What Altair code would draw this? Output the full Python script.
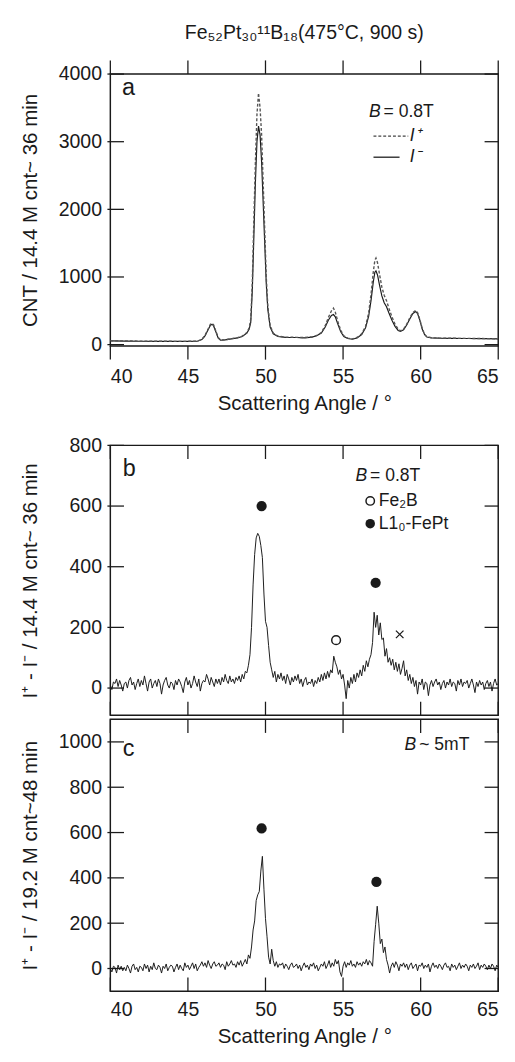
import altair as alt
import pandas as pd

FONT = "Liberation Sans"
INK = "#1a1a1a"

# ---------------- panel a : I+ and I- (CNT / 14.4 M cnt ~ 36 min) ----------------
a_angle = [40.0, 41.0, 42.0, 43.0, 44.0, 45.0, 45.6, 45.9, 46.1, 46.3,
           46.45, 46.55, 46.65, 46.8, 46.95, 47.1, 47.4, 47.8, 48.2, 48.5,
           48.8, 48.95, 49.05, 49.15, 49.25, 49.35, 49.45, 49.55, 49.65, 49.75,
           49.85, 49.95, 50.05, 50.15, 50.3, 50.5, 50.8, 51.3, 52.0, 52.5,
           53.0, 53.3, 53.6, 53.85, 54.05, 54.25, 54.38, 54.5, 54.65, 54.85,
           55.05, 55.3, 55.6, 55.9, 56.2, 56.45, 56.65, 56.8, 56.95, 57.05,
           57.12, 57.22, 57.35, 57.5, 57.65, 57.8, 57.95, 58.15, 58.35, 58.55,
           58.7, 58.9, 59.1, 59.3, 59.5, 59.68, 59.8, 59.95, 60.1, 60.25,
           60.4, 60.7, 61.2, 62.0, 63.0, 64.0, 65.0]
a_minus = [55, 52, 50, 48, 47, 47, 50, 75, 130, 220,
           285, 300, 280, 190, 100, 65, 70, 85, 100, 120,
           170, 230, 330, 800, 1600, 2400, 3000, 3230, 3100, 2700,
           2100, 1500, 900, 520, 260, 160, 120, 108, 105, 100,
           110, 130, 170, 260, 360, 430, 445, 410, 310, 190,
           120, 90, 80, 100, 150, 250, 420, 650, 930, 1070,
           1090, 1030, 880, 720, 620, 560, 470, 360, 270, 210,
           195, 220, 290, 380, 460, 490, 460, 360, 230, 150,
           112, 100, 95, 92, 90, 88, 85]
a_plus = [58, 55, 52, 50, 49, 49, 52, 78, 135, 230,
          300, 315, 295, 200, 105, 68, 72, 88, 104, 125,
          180, 250, 380, 920, 1850, 2700, 3400, 3720, 3500, 3100,
          2400, 1700, 1000, 570, 280, 170, 126, 112, 108, 104,
          115, 135, 180, 280, 400, 500, 540, 480, 350, 210,
          130, 95, 85, 105, 160, 270, 470, 740, 1080, 1250,
          1280, 1210, 1040, 850, 730, 650, 540, 410, 300, 230,
          205, 230, 300, 395, 475, 505, 475, 370, 240, 155,
          115, 102, 97, 94, 92, 90, 87]

# ---------------- panels b, c : I+ - I- on a 0.1 deg grid ----------------
diff_angle = [round(40 + i * 0.1, 1) for i in range(251)]
b_diff = [10, -5, 20, 15, 30, 5, 25, 10, -10, 15,
          20, 0, 25, 35, 10, 20, -5, 15, 30, 5,
          25, 10, 40, 15, -10, 20, 30, 0, 15, 25,
          5, 30, 15, -20, 10, 25, 35, 10, 0, 20,
          15, -5, 25, 10, 30, 20, 5, -15, 20, 35,
          10, 25, 0, 15, 40, 20, 5, 30, -10, 15,
          25, 20, 45, 30, 10, 35, 20, 5, 30, 15,
          30, 10, 35, 20, 45, 25, 15, 40, 20, 30,
          15, 35, 25, 40, 20, 45, 30, 55, 50, 75,
          110, 200, 340, 440, 495, 510, 500, 470, 430, 310,
          220, 200, 140, 85, 60, 35, 55, 20, 45, 30,
          50, 25, 40, 15, 45, 30, 10, 35, 20, 40,
          25, 45, 15, 30, 5, 25, 35, 10, 20, 15,
          30, 5, 25, 15, 35, 20, 45, 25, 50, 30,
          55, 35, 60, 50, 105, 85, 70, 45, 60, 30,
          45, 10, -35, 25, 0, 35, 15, 45, 20, 50,
          35, 60, 40, 75, 55, 90, 70, 95, 110, 150,
          250, 200, 240, 175, 215, 160, 165, 105, 130, 85,
          100, 75, 95, 60, 85, 55, 80, 45, 65, 90,
          40, 60, 25, 45, 15, 35, 5, 25, -20, 20,
          10, 30, -5, 20, 15, -25, 10, 25, 5, 20,
          30, 10, 20, -5, 15, 25, 0, 20, 10, 30,
          5, 20, 15, -10, 25, 10, 30, 5, 20, 15,
          25, 0, 15, 30, 10, -15, 20, 5, 25, 10,
          20, -5, 15, 25, 5, 20, -10, 15, 30, 10,
          15]
c_diff = [0, -15, 10, 5, -20, 15, -5, 10, -10, 5,
          -10, 15, 0, -20, 10, 20, -5, 5, -15, 10,
          5, -10, 20, 0, 15, -15, 10, -5, 25, 0,
          -5, 15, 5, -20, 10, 0, 20, -10, 5, 15,
          10, -15, 5, 20, -5, 15, 0, -10, 25, 5,
          15, -5, 10, 25, 0, 20, -10, 5, 15, 30,
          10, 25, 5, 35, 15, 0, 20, 30, 10, 15,
          25, 5, 20, 15, -5, 30, 10, 20, 35, 15,
          20, 5, 30, 15, 35, 10, 25, 40, 20, 60,
          45, 95, 170, 210, 300, 325, 340, 430, 495, 350,
          220, 140, 50, 20, 85, 35, 10, 30, 5, 20,
          15, 25, 0, 20, 10, -5, 15, 25, 5, 10,
          20, 0, 15, -10, 10, 25, 5, 15, -5, 20,
          10, 25, 0, 15, -10, 5, 20, 10, 30, 0,
          15, 35, 5, 25, 10, 40, 20, 35, -15, -35,
          10, 30, 5, 25, 15, 35, 10, 20, 5, 30,
          15, 25, 10, 30, 20, 40, 15, 35, 25, 10,
          120, 195, 275, 200, 110, 130, 70, 95, 40, 15,
          -20, 10, 25, 5, 30, 15, -10, 20, 10, 25,
          5, 20, -5, 15, 25, 0, 10, 20, -10, 15,
          10, 25, 0, 15, 5, 20, -15, 10, 25, 5,
          15, 0, 20, 10, -5, 15, 25, 5, 10, -10,
          20, 5, 15, -5, 10, 25, 0, 15, 5, 20,
          10, -10, 15, 5, 20, 0, 10, 25, -5, 15,
          5, 20, 10, -5, 15, 0, 20, 10, -10, 15,
          5]

# peak markers (angle, value)
b_fill_x = [49.75, 57.1]
b_fill_y = [600, 347]
b_open_x = [54.55]
b_open_y = [158]
b_cross_x = [58.65]
b_cross_y = [177]
c_fill_x = [49.75, 57.15]
c_fill_y = [618, 382]

# tick values
x_ticks = [40, 45, 50, 55, 60, 65]
a_yticks = [0, 1000, 2000, 3000, 4000]
b_yticks = [0, 200, 400, 600, 800]
c_yticks = [0, 200, 400, 600, 800, 1000]

W = 398
TL = 14

xs = alt.Scale(domain=[40, 65], nice=False, zero=False)
ys_a = alt.Scale(domain=[-20, 4000], nice=False, zero=False)
ys_b = alt.Scale(domain=[-90, 800], nice=False, zero=False)
ys_c = alt.Scale(domain=[-100, 1100], nice=False, zero=False)


def make_axes(ytitle, yvals, xlabels, xtitle, xlabpad):
    xkw = dict(values=x_ticks, ticks=False, tickSize=0, domain=False, grid=False,
               labels=xlabels, labelPadding=xlabpad, labelFontSize=20, labelFont=FONT,
               labelColor=INK, format="d", titleFont=FONT, titleFontSize=21,
               titleFontWeight="normal", titlePadding=7, titleColor=INK)
    if xtitle:
        xkw["title"] = xtitle
    else:
        xkw["title"] = None
    xa = alt.Axis(**xkw)
    ya = alt.Axis(values=yvals, ticks=False, tickSize=0, domain=False, grid=False,
                  labelPadding=9, labelFontSize=20, labelFont=FONT, labelColor=INK,
                  format="d", title=ytitle, titleFont=FONT, titleFontSize=21,
                  titleFontWeight="normal", titleColor=INK, titleX=-76,
                  titleBaseline="alphabetic")
    return xa, ya


def X(xa):
    return alt.X("x:Q", scale=xs, axis=xa)


def Y(ys, ya):
    return alt.Y("y:Q", scale=ys, axis=ya)


def frame_ticks(ys, xa, ya, yvals, H, outward_x):
    ydf = pd.DataFrame({"y": yvals})
    xdf = pd.DataFrame({"x": x_ticks})
    r = dict(color=INK, strokeWidth=1.3)
    left = alt.Chart(ydf).mark_rule(**r).encode(y=Y(ys, ya), x=alt.value(-3), x2=alt.value(TL))
    right = alt.Chart(ydf).mark_rule(**r).encode(y=Y(ys, ya), x=alt.value(W - TL), x2=alt.value(W))
    if outward_x:
        top = alt.Chart(xdf).mark_rule(**r).encode(x=X(xa), y=alt.value(-TL), y2=alt.value(0))
        bot = alt.Chart(xdf).mark_rule(**r).encode(x=X(xa), y=alt.value(H), y2=alt.value(H + TL))
    else:
        top = alt.Chart(xdf).mark_rule(**r).encode(x=X(xa), y=alt.value(0), y2=alt.value(TL))
        bot = alt.Chart(xdf).mark_rule(**r).encode(x=X(xa), y=alt.value(H - TL), y2=alt.value(H))
    return [left, right, top, bot]


def text(xv, yv, t, ys, xa, ya, **kw):
    df = pd.DataFrame({"x": [xv], "y": [yv], "t": [t]})
    opts = dict(font=FONT, color=INK, baseline="middle")
    opts.update(kw)
    return alt.Chart(df).mark_text(**opts).encode(x=X(xa), y=Y(ys, ya), text="t:N")


def points(xv, yv, ys, xa, ya, **kw):
    df = pd.DataFrame({"x": xv, "y": yv})
    return alt.Chart(df).mark_point(**kw).encode(x=X(xa), y=Y(ys, ya))


# ---------------- panel a ----------------
HA = 279
xa_a, ya_a = make_axes("CNT / 14.4 M cnt~ 36 min", a_yticks, True, "Scattering Angle / °", 21)
df_plus = pd.DataFrame({"x": a_angle, "y": a_plus})
df_minus = pd.DataFrame({"x": a_angle, "y": a_minus})
line_plus = alt.Chart(df_plus).mark_line(color="#555555", strokeWidth=1.4, strokeDash=[3, 2]).encode(
    x=X(xa_a), y=Y(ys_a, ya_a))
line_minus = alt.Chart(df_minus).mark_line(color=INK, strokeWidth=1.2).encode(
    x=X(xa_a), y=Y(ys_a, ya_a))
leg_dash = alt.Chart(pd.DataFrame({"x": [56.96], "x2": [59.2], "y": [3082]})).mark_rule(
    color="#444444", strokeWidth=1.4, strokeDash=[3, 2]).encode(x=X(xa_a), x2="x2:Q", y=Y(ys_a, ya_a))
leg_solid = alt.Chart(pd.DataFrame({"x": [56.96], "x2": [58.64], "y": [2771]})).mark_rule(
    color=INK, strokeWidth=1.3).encode(x=X(xa_a), x2="x2:Q", y=Y(ys_a, ya_a))

layers_a = [line_minus, line_plus, leg_dash, leg_solid,
            text(40.75, 3784, "a", ys_a, xa_a, ya_a, fontSize=24, align="left"),
            text(57.42, 3442, "B", ys_a, xa_a, ya_a, fontSize=18, align="right", fontStyle="italic"),
            text(57.42, 3442, "= 0.8T", ys_a, xa_a, ya_a, fontSize=18, align="left", dx=3),
            text(59.3, 3082, "I⁺", ys_a, xa_a, ya_a, fontSize=18, align="left", fontStyle="italic"),
            text(59.3, 2771, "I⁻", ys_a, xa_a, ya_a, fontSize=18, align="left", fontStyle="italic")]
layers_a += frame_ticks(ys_a, xa_a, ya_a, a_yticks, HA, True)
pa = alt.layer(*layers_a).properties(
    width=W, height=HA,
    title=alt.Title("Fe₅₂Pt₃₀¹¹B₁₈(475°C, 900 s)", anchor="middle", frame="group",
                    fontSize=20, font=FONT, fontWeight="normal", color=INK, offset=17))

# ---------------- panel b ----------------
HB = 277
xa_b, ya_b = make_axes("I⁺ - I⁻ / 14.4 M cnt~ 36 min", b_yticks, False, None, 0)
df_b = pd.DataFrame({"x": diff_angle, "y": b_diff})
line_b = alt.Chart(df_b).mark_line(color=INK, strokeWidth=1.0).encode(x=X(xa_b), y=Y(ys_b, ya_b))
layers_b = [line_b,
            points(b_fill_x, b_fill_y, ys_b, xa_b, ya_b, filled=True, color=INK, size=110, opacity=1),
            points(b_open_x, b_open_y, ys_b, xa_b, ya_b, filled=False, color=INK, size=80, strokeWidth=1.5, opacity=1),
            points(b_cross_x, b_cross_y, ys_b, xa_b, ya_b, shape="M-1,-1L1,1M-1,1L1,-1", filled=False,
                   color=INK, size=60, strokeWidth=1.3, opacity=1),
            points([56.75], [617], ys_b, xa_b, ya_b, filled=False, color=INK, size=75, strokeWidth=1.5, opacity=1),
            points([56.75], [542], ys_b, xa_b, ya_b, filled=True, color=INK, size=95, opacity=1),
            text(40.8, 723, "b", ys_b, xa_b, ya_b, fontSize=24, align="left"),
            text(56.55, 698, "B", ys_b, xa_b, ya_b, fontSize=18, align="right", fontStyle="italic"),
            text(56.55, 698, "= 0.8T", ys_b, xa_b, ya_b, fontSize=18, align="left", dx=3),
            text(57.3, 617, "Fe₂B", ys_b, xa_b, ya_b, fontSize=18, align="left"),
            text(57.3, 542, "L1₀-FePt", ys_b, xa_b, ya_b, fontSize=18, align="left")]
layers_b += frame_ticks(ys_b, xa_b, ya_b, b_yticks, HB, False)
pb = alt.layer(*layers_b).properties(width=W, height=HB)

# ---------------- panel c ----------------
HC = 279
xa_c, ya_c = make_axes("I⁺ - I⁻ / 19.2 M cnt~48 min", c_yticks, True, "Scattering Angle / °", 9)
df_c = pd.DataFrame({"x": diff_angle, "y": c_diff})
line_c = alt.Chart(df_c).mark_line(color=INK, strokeWidth=1.0).encode(x=X(xa_c), y=Y(ys_c, ya_c))
layers_c = [line_c,
            points(c_fill_x, c_fill_y, ys_c, xa_c, ya_c, filled=True, color=INK, size=110, opacity=1),
            text(40.8, 967, "c", ys_c, xa_c, ya_c, fontSize=24, align="left"),
            text(59.72, 984, "B", ys_c, xa_c, ya_c, fontSize=18, align="right", fontStyle="italic"),
            text(59.72, 984, "~ 5mT", ys_c, xa_c, ya_c, fontSize=18, align="left", dx=3)]
layers_c += frame_ticks(ys_c, xa_c, ya_c, c_yticks, HC, False)
pc = alt.layer(*layers_c).properties(width=W, height=HC)

inner = alt.vconcat(pb, pc, spacing=0)
chart = alt.vconcat(pa, inner, spacing=21).properties(
    padding={"left": 11, "top": 1, "right": 5, "bottom": 5}, background="white"
).configure_view(stroke=INK, strokeWidth=1.5)

chart.save("out.html", embed_options={"renderer": "svg", "actions": False})
